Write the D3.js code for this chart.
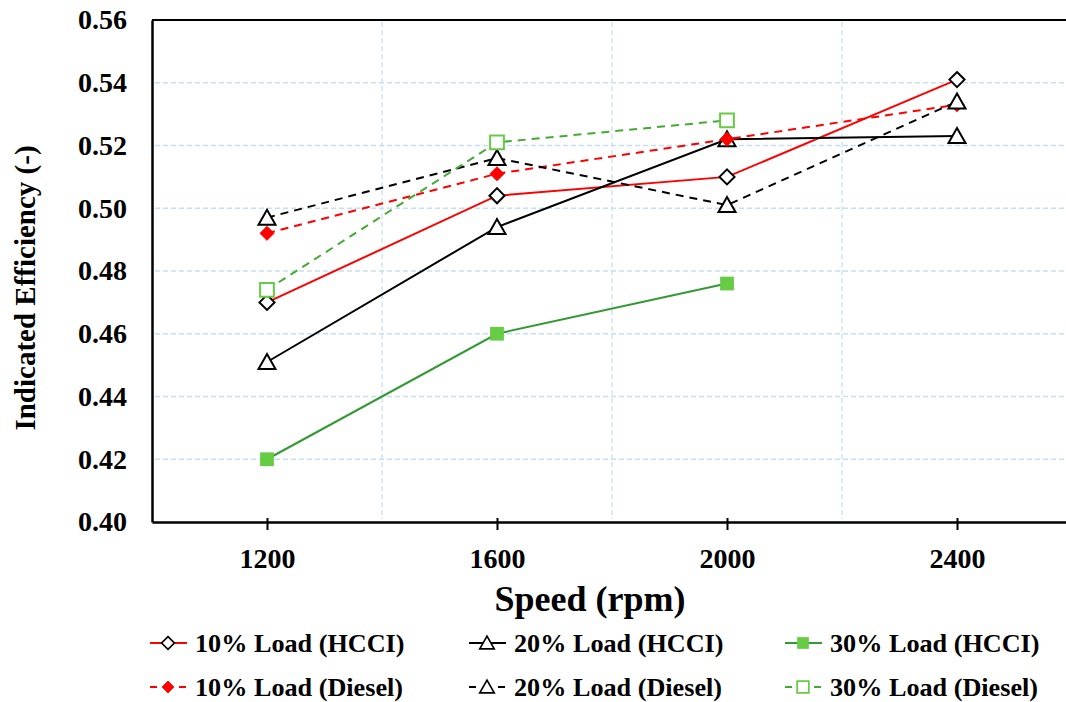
<!DOCTYPE html>
<html>
<head>
<meta charset="utf-8">
<script src="https://cdn.jsdelivr.net/npm/d3@7"></script>
<style>
  body { margin: 0; background: #fff; }
  svg { display: block; font-family: "Liberation Serif", "Times New Roman", serif; font-weight: bold; }
</style>
</head>
<body>
<div id="chart"></div>
<script>
const speeds = [1200, 1600, 2000, 2400];
const xTicks = [1200, 1600, 2000, 2400];
const xGrid = [1400, 1800, 2200, 2600];
const yTicks = [0.40, 0.42, 0.44, 0.46, 0.48, 0.50, 0.52, 0.54, 0.56];

const hcci10 = [0.470, 0.504, 0.510, 0.541];
const hcci20 = [0.451, 0.494, 0.522, 0.523];
const hcci30 = [0.420, 0.460, 0.476, null];
const diesel10 = [0.492, 0.511, 0.522, 0.533];
const diesel20 = [0.497, 0.516, 0.501, 0.534];
const diesel30 = [0.474, 0.521, 0.528, null];

const series = [
    { name: "10% Load (HCCI)", values: hcci10, line: "#ff0000", dash: null, marker: "diamond", fill: "#fff", stroke: "#000" },
    { name: "20% Load (HCCI)", values: hcci20, line: "#000", dash: null, marker: "triangle", fill: "#fff", stroke: "#000" },
    { name: "30% Load (HCCI)", values: hcci30, line: "#339933", dash: null, marker: "square", fill: "#66cc44", stroke: "#66cc44" },
    { name: "10% Load (Diesel)", values: diesel10, line: "#ff0000", dash: "8,6", marker: "diamondFilled", fill: "#ff0000", stroke: "#ff0000" },
    { name: "20% Load (Diesel)", values: diesel20, line: "#000", dash: "8,6", marker: "triangle", fill: "#fff", stroke: "#000" },
    { name: "30% Load (Diesel)", values: diesel30, line: "#44aa33", dash: "8,6", marker: "square", fill: "#fff", stroke: "#66cc44" }
];

const width = 1066, height = 702;
const margin = { left: 152, top: 20, right: 1072, bottom: 522 };

const svg = d3.select("#chart")
    .append("svg")
    .attr("width", width)
    .attr("height", height);

const x = d3.scaleLinear().domain([1000, 2600]).range([margin.left, margin.right]);
const y = d3.scaleLinear().domain([0.40, 0.56]).range([margin.bottom, margin.top]);

// gridlines
svg.append("g").selectAll("line")
    .data(yTicks.filter(d => d > 0.40 && d < 0.56))
    .enter().append("line")
    .attr("x1", margin.left + 3).attr("x2", margin.right)
    .attr("y1", d => y(d)).attr("y2", d => y(d))
    .attr("stroke", "#c5e0f2").attr("stroke-width", 1.3)
    .attr("stroke-dasharray", "5,3");

svg.append("g").selectAll("line")
    .data(xGrid)
    .enter().append("line")
    .attr("x1", d => x(d)).attr("x2", d => x(d))
    .attr("y1", margin.top + 2).attr("y2", margin.bottom - 3)
    .attr("stroke", "#c5e0f2").attr("stroke-width", 1.3)
    .attr("stroke-dasharray", "5,3");

// frame top
svg.append("line")
    .attr("x1", margin.left).attr("x2", margin.right)
    .attr("y1", margin.top).attr("y2", margin.top)
    .attr("stroke", "#000").attr("stroke-width", 2);

// x axis
const xAxis = svg.append("g")
    .attr("transform", `translate(0,${margin.bottom})`)
    .call(d3.axisBottom(x).tickValues(xTicks).tickFormat(d3.format("d")).tickSize(8).tickSizeOuter(0).tickPadding(18));
xAxis.select(".domain").attr("stroke-width", 2.5);
xAxis.selectAll(".tick line").attr("stroke-width", 2).attr("y1", -4).attr("y2", 8);
xAxis.selectAll("text").attr("font-size", 28).attr("font-family", "Liberation Serif").attr("font-weight", "bold").attr("fill", "#000");

// y axis
const yAxis = svg.append("g")
    .attr("transform", `translate(${margin.left},0)`)
    .call(d3.axisLeft(y).tickValues(yTicks).tickFormat(d3.format(".2f")).tickSize(0).tickPadding(25));
yAxis.select(".domain").attr("stroke-width", 2.5);
yAxis.selectAll("text").attr("font-size", 28).attr("font-family", "Liberation Serif").attr("font-weight", "bold").attr("fill", "#000");

// titles
svg.append("text")
    .attr("x", x(1800) - 22).attr("y", 611)
    .attr("text-anchor", "middle")
    .attr("font-size", 36)
    .text("Speed (rpm)");

svg.append("text")
    .attr("transform", "translate(35,288) rotate(-90)")
    .attr("text-anchor", "middle")
    .attr("font-size", 29)
    .text("Indicated Efficiency (-)");

function markerPath(type) {
    if (type === "diamond") return d3.symbol().type(d3.symbolDiamond2).size(145)();
    if (type === "diamondFilled") return d3.symbol().type(d3.symbolDiamond2).size(125)();
    if (type === "triangle") return "M0,-8L8.5,7L-8.5,7Z";
    return d3.symbol().type(d3.symbolSquare).size(190)();
}

// lines & markers
series.forEach(s => {
    const pts = speeds.map((sp, i) => ({ sp, v: s.values[i] })).filter(p => p.v !== null);
    svg.append("path")
        .datum(pts)
        .attr("fill", "none")
        .attr("stroke", s.line)
        .attr("stroke-width", 2)
        .attr("stroke-dasharray", s.dash)
        .attr("d", d3.line().x(p => x(p.sp)).y(p => y(p.v)));
});

function strokeW(s) {
    if (s.marker === "square" && s.fill !== "#fff") return 0;
    if (s.marker === "diamondFilled") return 1;
    return 2;
}

series.forEach(s => {
    const pts = speeds.map((sp, i) => ({ sp, v: s.values[i] })).filter(p => p.v !== null);
    svg.append("g").selectAll("path")
        .data(pts)
        .enter().append("path")
        .attr("transform", p => `translate(${x(p.sp)},${y(p.v)})`)
        .attr("d", markerPath(s.marker))
        .attr("fill", s.fill)
        .attr("stroke", s.stroke)
        .attr("stroke-width", strokeW(s));
});

// legend
const legCols = [168, 487, 803];
const legRows = [643, 687];
series.forEach((s, i) => {
    const cx = legCols[i % 3];
    const cy = legRows[Math.floor(i / 3)];
    const g = svg.append("g").attr("transform", `translate(${cx},${cy})`);
    if (s.dash) {
        g.append("line").attr("x1", -18).attr("x2", -11).attr("y1", 0).attr("y2", 0)
            .attr("stroke", s.line).attr("stroke-width", 2);
        g.append("line").attr("x1", 11).attr("x2", 18).attr("y1", 0).attr("y2", 0)
            .attr("stroke", s.line).attr("stroke-width", 2);
    } else {
        g.append("line").attr("x1", -18).attr("x2", 19).attr("y1", 0).attr("y2", 0)
            .attr("stroke", s.line).attr("stroke-width", 2);
    }
    g.append("path")
        .attr("d", markerPath(s.marker))
        .attr("transform", s.marker === "triangle" ? "scale(0.85)" : "scale(0.85)")
        .attr("fill", s.fill)
        .attr("stroke", s.stroke)
        .attr("stroke-width", strokeW(s));
    g.append("text")
        .attr("x", 27).attr("y", 9)
        .attr("font-size", 26.2)
        .text(s.name);
});
</script>
</body>
</html>
